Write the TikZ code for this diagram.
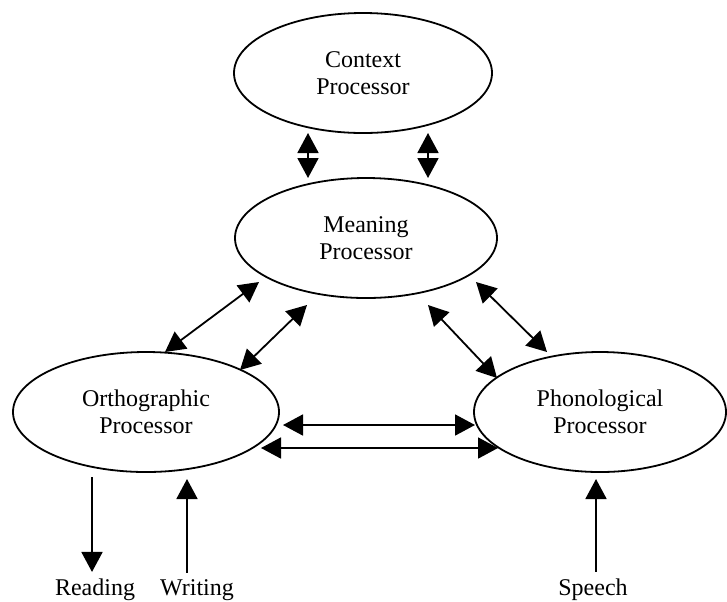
\documentclass[tikz,border=0pt]{standalone}
\usepackage{fontspec}
\setmainfont{Liberation Serif}
\usepackage{tikz}
\usetikzlibrary{shapes,arrows.meta,calc}

\tikzset{
  proc/.style={ellipse, draw, line width=0.9pt, align=center, inner sep=0pt, minimum height=60pt},
  lbl/.style={anchor=base, inner sep=3pt},
  tip/.style={Triangle[length=10pt, width=10.5pt]},
  dbl/.style={line width=0.9pt, {Triangle[length=10pt, width=10.5pt]}-{Triangle[length=10pt, width=10.5pt]}},
  uni/.style={line width=0.9pt, -{Triangle[length=10pt, width=10.5pt]}}
}

\begin{document}
\begin{tikzpicture}[x=0.5pt, y=-0.5pt, font=\fontsize{12}{13.5}\selectfont]
      \useasboundingbox (0, 0) rectangle (727, 601);
      \node (ctx) [proc, minimum width=129pt] at (363, 73) {Context\\Processor};
      \node (mean) [proc, minimum width=131pt] at (366, 238) {Meaning\\Processor};
      \node (ortho) [proc, minimum width=133pt] at (146, 412) {Orthographic\\Processor};
      \node (phono) [proc, minimum width=126pt] at (600, 412) {Phonological\\Processor};
      \node (rd) [lbl] at (95, 595) {Reading};
      \node (wr) [lbl] at (197, 595) {Writing};
      \node (sp) [lbl] at (593, 595) {Speech};
      \draw[dbl] ($(ctx)+(-55, 60)$) -- ($(mean)+(-58, -60)$);
      \draw[dbl] ($(ctx)+(65, 60)$) -- ($(mean)+(62, -60)$);
      \draw[dbl] ($(mean)+(-107, 44)$) -- ($(ortho)+(19, -60)$);
      \draw[dbl] ($(mean)+(-59, 67)$) -- ($(ortho)+(94, -42)$);
      \draw[dbl] ($(mean)+(110, 44)$) -- ($(phono)+(-53, -60)$);
      \draw[dbl] ($(mean)+(62, 67)$) -- ($(phono)+(-103, -34)$);
      \draw[dbl] ($(ortho)+(137, 13)$) -- ($(phono)+(-125, 13)$);
      \draw[dbl] ($(ortho)+(115, 36)$) -- ($(phono)+(-102, 36)$);
      \draw[uni] ($(ortho)+(-54, 65)$) -- (rd.north -| 92, 0);
      \draw[uni] (wr.north -| 187, 0) -- ($(ortho)+(41, 67)$);
      \draw[uni] (sp.north -| 596, 0) -- ($(phono)+(-4, 67)$);
\end{tikzpicture}
\end{document}
